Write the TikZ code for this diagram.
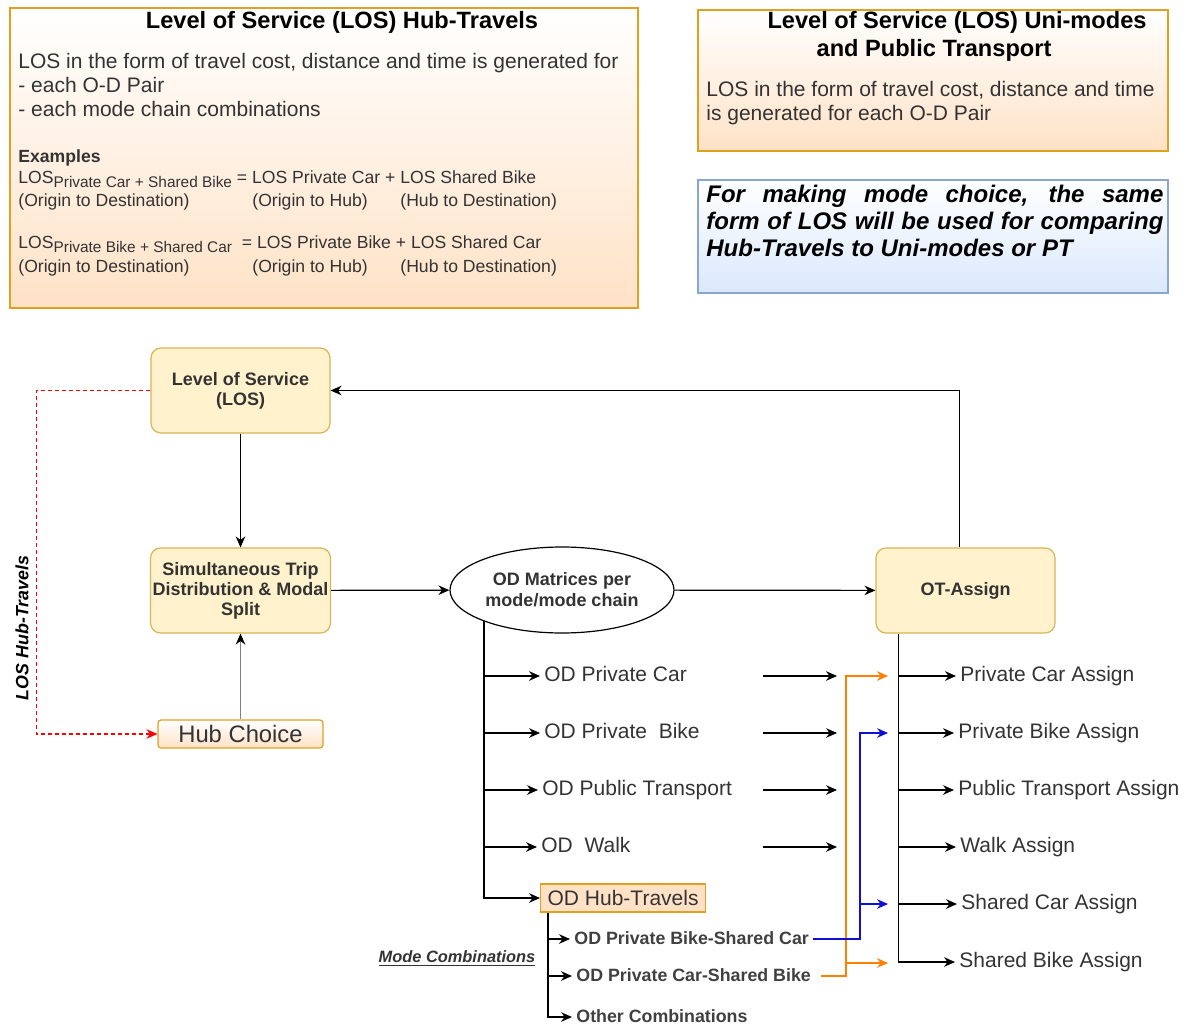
\documentclass[tikz,border=0pt]{standalone}
\usepackage{fontspec}
\setmainfont{Liberation Sans}
\usepackage{xcolor}
\usepackage{tikz}
\usetikzlibrary{arrows.meta, positioning, shapes.geometric}

\definecolor{ylwfill}{HTML}{FFF2CC}
\definecolor{ylwline}{HTML}{D6B656}
\definecolor{orgfill}{HTML}{FFE2C6}
\definecolor{orgline}{HTML}{E0A020}
\definecolor{bluefill}{HTML}{DAE8FC}
\definecolor{blueline}{HTML}{8AA6D0}
\definecolor{txtgray}{HTML}{333333}
\definecolor{linkorange}{HTML}{FF8000}
\definecolor{linkblue}{HTML}{1010D0}

\newcommand{\lossub}[1]{\raisebox{-0.45ex}{\fontsize{7.7}{8}\selectfont #1}}

\tikzset{
  arr/.style={-{Stealth[length=5.5pt, width=4.8pt, inset=1.8pt]}, line width=0.6pt},
  flowbox/.style={rectangle, rounded corners=5pt, draw=ylwline, fill=ylwfill, line width=0.6pt,
    minimum width=89.5pt, minimum height=42.5pt, inner sep=1pt, align=center,
    font=\bfseries\fontsize{9}{10}\selectfont, text=txtgray},
  bodytext/.style={anchor=west, inner sep=0pt, text=txtgray, text height=0.72em, text depth=0.2em,
    font=\fontsize{10.5}{12}\selectfont},
  smalltext/.style={anchor=west, inner sep=0pt, text=txtgray, text height=0.72em, text depth=0.2em,
    font=\fontsize{8.8}{10}\selectfont},
  titletext/.style={inner sep=0pt, font=\bfseries\fontsize{11.8}{14}\selectfont},
  odlabel/.style={anchor=west, inner sep=2pt, text=txtgray, text height=0.72em, text depth=0.2em,
    font=\fontsize{10.5}{12}\selectfont},
  combolabel/.style={anchor=west, inner sep=2pt, text=black!75, text height=0.72em, text depth=0.2em,
    font=\bfseries\fontsize{8.9}{10}\selectfont},
}

\begin{document}
\begin{tikzpicture}[x=0.5pt, y=-0.5pt]
                    \useasboundingbox (0,0) rectangle (1187,1026);
                    % LOS hub-travels note
                    \shadedraw[draw=orgline, line width=0.6pt, top color=white, middle color=orgfill!85, bottom color=orgfill] (10,8) rectangle (638,308);
                    \node[titletext] (hubttl) at (342,22) {Level of Service (LOS) Hub-Travels};
                    \node[bodytext] (hubl1) at (18,63) {LOS in the form of travel cost, distance and time is generated for};
                    \node[bodytext] (hubl2) at (18,87) {- each O-D Pair};
                    \node[bodytext] (hubl3) at (18,111) {- each mode chain combinations};
                    \node[smalltext, font=\bfseries\fontsize{8.8}{10}\selectfont] (hubex) at (18,157) {Examples};
                    \node[smalltext] (hubeqA) at (18,178) {LOS\lossub{Private Car + Shared Bike} = LOS Private Car + LOS Shared Bike};
                    \node[smalltext] (hubodA) at (18,201) {(Origin to Destination)};
                    \node[smalltext] (hubohA) at (252,201) {(Origin to Hub)};
                    \node[smalltext] (hubhdA) at (400,201) {(Hub to Destination)};
                    \node[smalltext] (hubeqB) at (18,243) {LOS\lossub{Private Bike + Shared Car}\ \ = LOS Private Bike + LOS Shared Car};
                    \node[smalltext] (hubodB) at (18,267) {(Origin to Destination)};
                    \node[smalltext] (hubohB) at (252,267) {(Origin to Hub)};
                    \node[smalltext] (hubhdB) at (400,267) {(Hub to Destination)};
                    % LOS uni-modes note
                    \shadedraw[draw=orgline, line width=0.6pt, top color=white, middle color=orgfill, bottom color=orgfill] (698,10) rectangle (1168,151);
                    \node[titletext] (unittlA) at (957,22) {Level of Service (LOS) Uni-modes};
                    \node[titletext] (unittlB) at (934,50) {and Public Transport};
                    \node[bodytext] (unil1) at (706,91) {LOS in the form of travel cost, distance and time};
                    \node[bodytext] (unil2) at (706,115) {is generated for each O-D Pair};
                    % Mode choice note
                    \shadedraw[draw=blueline, line width=0.6pt, top color=white, middle color=bluefill, bottom color=bluefill] (698,180) rectangle (1168,293);
                    \node[anchor=north west, inner sep=0pt, text width=228.5pt, align=justify,
                      font=\bfseries\itshape\fontsize{12}{13.5}\selectfont] (mcnote) at (706,185)
                      {For making mode choice, the same\linebreak form of LOS will be used for comparing\linebreak Hub-Travels to Uni-modes or PT};
                    % Main steps
                    \node[flowbox] (los) at (240.5,390.5) {Level of Service\\(LOS)};
                    \node[flowbox] (sim) at (240.5,590.5) {Simultaneous Trip\\Distribution \& Modal\\Split};
                    \node[draw=orgline, line width=0.6pt, rounded corners=1.5pt, top color=white, bottom color=orgfill, minimum width=82.5pt, minimum height=14pt,
                      inner sep=0pt, text=txtgray, font=\fontsize{11.9}{13}\selectfont] (hub) at (240.5,734) {Hub Choice};
                    \node[ellipse, draw, line width=0.6pt, fill=white, minimum width=112pt, minimum height=43pt, inner sep=0pt, align=center,
                      font=\bfseries\fontsize{9}{10.5}\selectfont, text=txtgray] (odm) at (562,590) {OD Matrices per\\mode/mode chain};
                    \node[flowbox] (ot) at (965.5,590.5) {OT-Assign};
                    \node[rotate=90, inner sep=0pt, font=\bfseries\itshape\fontsize{8.9}{10}\selectfont] (loslbl) at (22,628) {LOS Hub-Travels};
                    % Main links
                    \draw[arr] (los) -- (sim);
                    \draw[-{Stealth[length=5.5pt, width=4.8pt, inset=1.8pt, black]}, line width=0.6pt, draw=gray] (hub) -- (sim);
                    \draw[arr] (sim) -- (odm);
                    \draw[arr] (odm) -- (ot);
                    \draw[arr] ([xshift=-3pt]ot.north) |- (los.east);
                    \draw[-{Stealth[length=5.5pt, width=4.8pt, inset=1.8pt, red]}, line width=0.6pt, red, dash pattern=on 2pt off 1.5pt] (los.west) -- ++(-114,0) |- (hub.west);
                    % OD matrices
                    \node[odlabel] (odcar) at (540,676) {OD Private Car};
                    \node[odlabel] (odbike) at (540,733) {OD Private\ \ Bike};
                    \node[odlabel] (odpt) at (538,790) {OD Public Transport};
                    \node[odlabel] (odwalk) at (537,847) {OD\ \ Walk};
                    \node[anchor=west, draw=orgline, fill=orgfill, line width=0.6pt, minimum height=14pt, inner xsep=3.5pt, inner ysep=0pt,
                      text=txtgray, font=\fontsize{10.5}{12}\selectfont] (odhub) at (540,898) {OD Hub-Travels};
                    \coordinate (odtrunk) at (484,621);
                    \draw[arr] (odtrunk) |- (odhub.west);
                    \foreach \n in {odcar,odbike,odpt,odwalk}
                      \draw[arr] (odtrunk |- \n.west) -- (\n.west);
                    % Mode combinations
                    \node[combolabel] (odbc) at (570,939) {OD Private Bike-Shared Car};
                    \node[combolabel] (odcs) at (572,976) {OD Private Car-Shared Bike};
                    \node[combolabel] (odoc) at (572,1017) {Other Combinations};
                    \node[inner sep=0pt, text=txtgray, font=\bfseries\itshape\fontsize{8.2}{9}\selectfont] (modecomb) at (457,959) {\underline{Mode Combinations}};
                    \coordinate (combtrunk) at ([xshift=4pt]odhub.south west);
                    \draw[arr] (combtrunk) |- (odoc.west);
                    \foreach \n in {odbc,odcs}
                      \draw[arr] (combtrunk |- \n.west) -- (\n.west);
                    % Pass-through arrows
                    \foreach \i/\yy in {1/676,2/733,3/790,4/847}{
                      \coordinate (gapA\i) at (763,\yy);
                      \coordinate (gapB\i) at (837,\yy);
                      \draw[arr] (gapA\i) -- (gapB\i);
                    }
                    % Assignments
                    \node[odlabel] (asgcar) at (956,676) {Private Car Assign};
                    \node[odlabel] (asgbike) at (954,733) {Private Bike Assign};
                    \node[odlabel] (asgpt) at (954,790) {Public Transport Assign};
                    \node[odlabel] (asgwalk) at (956,847) {Walk Assign};
                    \node[odlabel] (asgscar) at (957,904) {Shared Car Assign};
                    \node[odlabel] (asgsbike) at (955,962) {Shared Bike Assign};
                    \coordinate (ottrunk) at ([xshift=11.5pt]ot.south west);
                    \draw[arr] (ottrunk) |- (asgsbike.west);
                    \foreach \n in {asgcar,asgbike,asgpt,asgwalk,asgscar}
                      \draw[arr] (ottrunk |- \n.west) -- (\n.west);
                    % Hub-travel links
                    \coordinate (orgA) at (888,676);
                    \coordinate (orgB) at (888,963);
                    \coordinate (bluA) at (888,733);
                    \coordinate (bluB) at (888,904);
                    \draw[arr, linkorange] ([xshift=3pt]odcs.east) -| ([xshift=-21pt]orgA) -- (orgA);
                    \draw[arr, linkorange] ([xshift=-21pt]orgB) -- (orgB);
                    \draw[arr, linkblue] (odbc.east) -| ([xshift=-14pt]bluA) -- (bluA);
                    \draw[arr, linkblue] ([xshift=-14pt]bluB) -- (bluB);
\end{tikzpicture}
\end{document}
